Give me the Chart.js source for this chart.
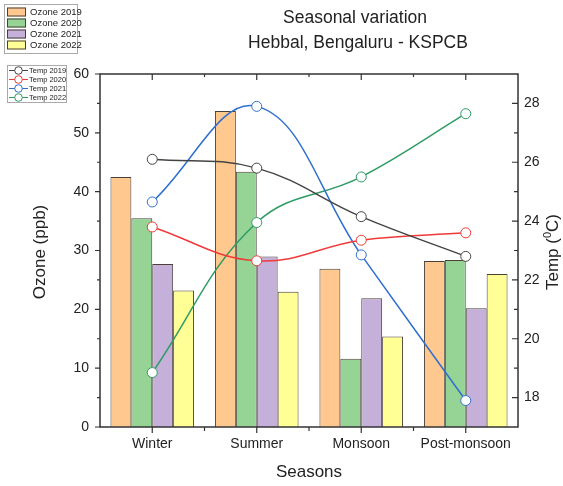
<!DOCTYPE html>
<html>
<head>
<meta charset="utf-8">
<script src="https://cdn.jsdelivr.net/npm/chart.js@4.4.1/dist/chart.umd.min.js"></script>
<style>
  html, body { margin: 0; padding: 0; background: #fff; }
  #wrap { width: 563px; height: 486px; }
</style>
</head>
<body>
<div id="wrap"><canvas id="ozoneChart" width="563" height="486"></canvas></div>
<script>
// Dữ liệu
const seasons = ['Winter', 'Summer', 'Monsoon', 'Post-monsoon'];

const ozone2019 = [42.5, 53.7, 26.9, 28.2];
const ozone2020 = [35.5, 43.4, 11.6, 28.4];
const ozone2021 = [27.7, 29.0, 21.9, 20.2];
const ozone2022 = [23.2, 23.0, 15.4, 26.0];

const temp2019 = [26.1, 25.8, 24.15, 22.8];
const temp2020 = [23.8, 22.65, 23.35, 23.6];
const temp2021 = [24.65, 27.9, 22.85, 17.9];
const temp2022 = [18.85, 23.95, 25.5, 27.65];

const ozoneLabels = ['Ozone 2019', 'Ozone 2020', 'Ozone 2021', 'Ozone 2022'];
const tempLabels = ['Temp 2019', 'Temp 2020', 'Temp 2021', 'Temp 2022'];

const barColors = ['rgb(255,200,142)', 'rgb(150,212,150)', 'rgb(196,176,216)', 'rgb(255,255,150)'];
const lineColors = ['#444444', '#f03a3a', '#2f6fcf', '#2e9b63'];

const FONT = '"Liberation Sans", Arial, sans-serif';

function barSet(label, data, i) {
    return {
        type: 'bar',
        label: label,
        data: data,
        yAxisID: 'y',
        backgroundColor: barColors[i],
        borderColor: '#4a4038',
        borderWidth: 1,
        categoryPercentage: 0.8,
        barPercentage: 1.0,
        order: 2
    };
}

function lineSet(label, data, i) {
    return {
        type: 'line',
        label: label,
        data: data,
        yAxisID: 'y1',
        borderColor: lineColors[i],
        borderWidth: 1.5,
        tension: 0.4,
        pointRadius: 5,
        pointBackgroundColor: '#ffffff',
        pointBorderColor: lineColors[i],
        pointBorderWidth: 1,
        order: 1
    };
}

// Vẽ khung, vạch chia, tiêu đề và chú thích
const decorPlugin = {
    id: 'decor',
    afterDraw(chart) {
        const c = chart.ctx;
        const a = chart.chartArea;
        const x = chart.scales.x, y = chart.scales.y, y1 = chart.scales.y1;
        c.save();
        c.strokeStyle = '#333';
        c.lineWidth = 1.5;
        c.strokeRect(a.left, a.top, a.right - a.left, a.bottom - a.top);

        c.lineWidth = 1.2;
        c.beginPath();
        const step = x.getPixelForValue(1) - x.getPixelForValue(0);
        for (let i = 0; i < seasons.length; i++) {
            const px = x.getPixelForValue(i);
            c.moveTo(px, a.bottom); c.lineTo(px, a.bottom + 6);
            c.moveTo(px, a.top); c.lineTo(px, a.top + 6);
            if (i > 0) {
                const bx = px - step / 2;
                c.moveTo(bx, a.bottom); c.lineTo(bx, a.bottom + 4);
                c.moveTo(bx, a.top); c.lineTo(bx, a.top + 3);
            }
        }
        for (let v = 0; v <= 60; v += 5) {
            const py = y.getPixelForValue(v);
            c.moveTo(a.left, py); c.lineTo(a.left - (v % 10 === 0 ? 5 : 3), py);
        }
        for (let v = 18; v <= 28; v++) {
            const py = y1.getPixelForValue(v);
            c.moveTo(a.right, py); c.lineTo(a.right - (v % 2 === 0 ? 6 : 4), py);
        }
        c.stroke();

        // Tiêu đề
        c.fillStyle = '#222';
        c.textAlign = 'center';
        c.textBaseline = 'middle';
        c.font = '17.5px ' + FONT;
        c.fillText('Seasonal variation', 355, 18);
        c.fillText('Hebbal, Bengaluru - KSPCB', 358, 43);

        c.font = '17px ' + FONT;
        c.fillText('Seasons', 309, 472);

        c.save();
        c.translate(40, 252);
        c.rotate(-Math.PI / 2);
        c.fillText('Ozone (ppb)', 0, 0);
        c.restore();

        // Temp (0C) với số 0 viết trên
        c.save();
        c.translate(553, 252);
        c.rotate(-Math.PI / 2);
        c.textAlign = 'left';
        c.font = '17px ' + FONT;
        const p1 = 'Temp (', p3 = 'C)';
        const w1 = c.measureText(p1).width, w3 = c.measureText(p3).width;
        c.font = '11px ' + FONT;
        const w2 = c.measureText('0').width;
        let sx = -(w1 + w2 + w3) / 2;
        c.font = '17px ' + FONT;
        c.fillText(p1, sx, 0);
        c.font = '11px ' + FONT;
        c.fillText('0', sx + w1, -5);
        c.font = '17px ' + FONT;
        c.fillText(p3, sx + w1 + w2, 0);
        c.restore();

        // Chú thích cột
        c.lineWidth = 1;
        c.strokeStyle = '#aaa';
        c.strokeRect(4.5, 4.5, 73, 49);
        c.textAlign = 'left';
        c.font = '9.5px ' + FONT;
        for (let i = 0; i < ozoneLabels.length; i++) {
            const cy = 12 + i * 11;
            c.fillStyle = barColors[i];
            c.fillRect(7, cy - 4.5, 19, 9);
            c.strokeStyle = '#4a4038';
            c.strokeRect(7.5, cy - 4, 18, 8);
            c.fillStyle = '#222';
            c.fillText(ozoneLabels[i], 30, cy);
        }

        // Chú thích đường
        c.strokeStyle = '#aaa';
        c.strokeRect(7.5, 65.5, 59, 37);
        c.font = '7.5px ' + FONT;
        for (let i = 0; i < tempLabels.length; i++) {
            const cy = 70.5 + i * 9;
            c.strokeStyle = lineColors[i];
            c.beginPath();
            c.moveTo(9, cy); c.lineTo(28, cy);
            c.stroke();
            c.beginPath();
            c.arc(18.5, cy, 3.8, 0, Math.PI * 2);
            c.fillStyle = '#fff';
            c.fill();
            c.stroke();
            c.fillStyle = '#222';
            c.fillText(tempLabels[i], 29, cy);
        }
        c.restore();
    }
};

const ctx = document.getElementById('ozoneChart').getContext('2d');
new Chart(ctx, {
    data: {
        labels: seasons,
        datasets: [
            lineSet(tempLabels[0], temp2019, 0),
            lineSet(tempLabels[1], temp2020, 1),
            lineSet(tempLabels[2], temp2021, 2),
            lineSet(tempLabels[3], temp2022, 3),
            barSet(ozoneLabels[0], ozone2019, 0),
            barSet(ozoneLabels[1], ozone2020, 1),
            barSet(ozoneLabels[2], ozone2021, 2),
            barSet(ozoneLabels[3], ozone2022, 3)
        ]
    },
    options: {
        responsive: false,
        animation: false,
        devicePixelRatio: 1,
        layout: { padding: { top: 74, left: 0, right: 0, bottom: 0 } },
        plugins: {
            legend: { display: false },
            tooltip: { enabled: false }
        },
        scales: {
            x: {
                type: 'category',
                offset: true,
                grid: { display: false, drawTicks: false },
                border: { display: false },
                ticks: { color: '#222', font: { family: FONT, size: 14 }, padding: 9, maxRotation: 0 },
                afterFit: s => { s.height = 59; }
            },
            y: {
                position: 'left',
                min: 0,
                max: 60,
                grid: { display: false, drawTicks: false },
                border: { display: false },
                ticks: { stepSize: 10, color: '#222', font: { family: FONT, size: 14 }, padding: 11 },
                afterFit: s => { s.width = 100; }
            },
            y1: {
                position: 'right',
                min: 17,
                max: 29,
                grid: { display: false, drawTicks: false },
                border: { display: false },
                ticks: {
                    stepSize: 1,
                    color: '#222',
                    font: { family: FONT, size: 14 },
                    padding: 6,
                    callback: v => (v % 2 === 0 ? v : '')
                },
                afterFit: s => { s.width = 45; }
            }
        }
    },
    plugins: [decorPlugin]
});
</script>
</body>
</html>
